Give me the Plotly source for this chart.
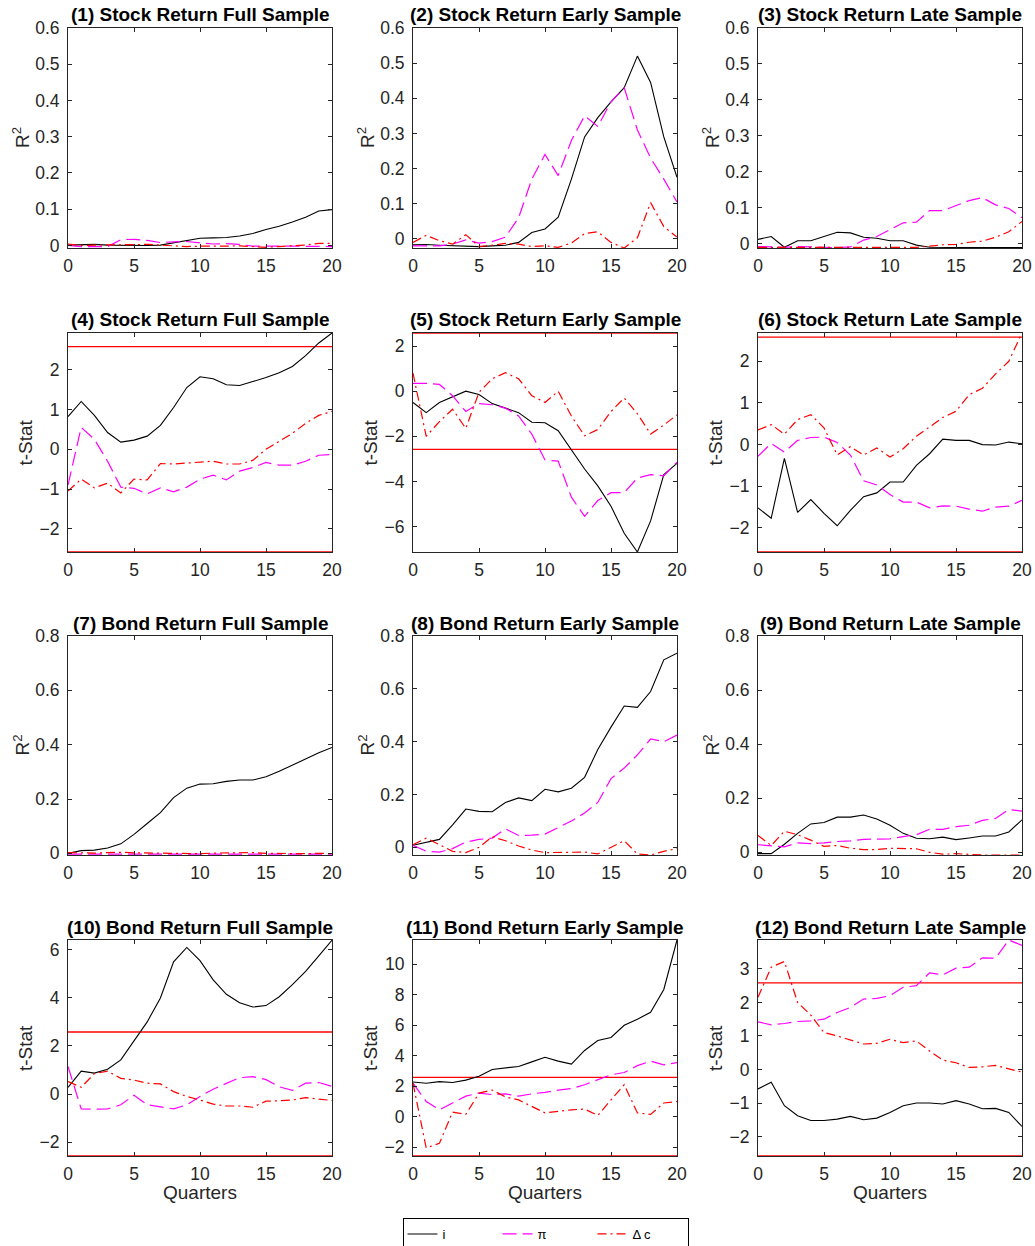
import plotly.graph_objects as go

quarters = list(range(21))
crit = 2.58

titles = [
    "(1) Stock Return Full Sample", "(2) Stock Return Early Sample", "(3) Stock Return Late Sample",
    "(4) Stock Return Full Sample", "(5) Stock Return Early Sample", "(6) Stock Return Late Sample",
    "(7) Bond Return Full Sample", "(8) Bond Return Early Sample", "(9) Bond Return Late Sample",
    "(10) Bond Return Full Sample", "(11) Bond Return Early Sample", "(12) Bond Return Late Sample",
]
series_names = ["i", "π", "Δ c"]

# Panel 1: stock R2 full
p1_i  = [0.001, 0.002, 0.003, 0.001, 0.0, 0.0, 0.0, 0.001, 0.007, 0.013, 0.02, 0.021, 0.022, 0.026, 0.033, 0.044, 0.053, 0.065, 0.078, 0.095, 0.099]
p1_pi = [0.0, -0.003, -0.003, -0.003, 0.016, 0.017, 0.014, 0.008, 0.01, 0.011, 0.007, 0.004, 0.005, 0.003, -0.002, -0.003, -0.002, -0.002, -0.002, -0.003, -0.003]
p1_dc = [0.004, 0.0, 0.001, 0.002, 0.003, 0.002, 0.003, 0.001, -0.002, -0.003, -0.002, -0.003, -0.002, -0.001, -0.002, -0.005, -0.003, -0.002, 0.001, 0.006, 0.006]
# Panel 2: stock R2 early
p2_i  = [-0.017, -0.016, -0.018, -0.02, -0.022, -0.022, -0.02, -0.018, -0.01, 0.018, 0.028, 0.062, 0.17, 0.29, 0.345, 0.39, 0.43, 0.52, 0.445, 0.29, 0.175]
p2_pi = [-0.02, -0.02, -0.02, -0.015, -0.003, -0.012, -0.008, 0.005, 0.06, 0.17, 0.24, 0.18, 0.28, 0.35, 0.32, 0.39, 0.43, 0.31, 0.23, 0.17, 0.105]
p2_dc = [-0.01, 0.01, -0.005, -0.015, 0.012, -0.022, -0.018, -0.013, -0.015, -0.022, -0.02, -0.024, -0.012, 0.015, 0.02, -0.01, -0.026, 0.003, 0.103, 0.035, 0.005]
# Panel 3: stock R2 late
p3_i  = [0.012, 0.02, -0.01, 0.008, 0.008, 0.02, 0.032, 0.03, 0.018, 0.015, 0.008, 0.008, -0.004, -0.01, -0.011, -0.011, -0.011, -0.011, -0.011, -0.011, -0.011]
p3_pi = [-0.008, -0.009, -0.01, -0.008, -0.009, -0.01, -0.011, -0.009, 0.01, 0.02, 0.04, 0.058, 0.06, 0.092, 0.092, 0.107, 0.12, 0.128, 0.108, 0.098, 0.072]
p3_dc = [-0.01, -0.01, -0.011, -0.01, -0.01, -0.011, -0.011, -0.011, -0.011, -0.011, -0.011, -0.01, -0.01, -0.007, -0.003, -0.002, 0.004, 0.007, 0.018, 0.033, 0.062]
# Panel 4: stock t full
p4_i  = [0.82, 1.2, 0.85, 0.42, 0.18, 0.23, 0.33, 0.6, 1.05, 1.55, 1.82, 1.77, 1.62, 1.6, 1.7, 1.8, 1.92, 2.08, 2.35, 2.67, 2.92]
p4_pi = [-0.9, 0.55, 0.25, -0.3, -0.95, -0.98, -1.12, -0.97, -1.07, -0.95, -0.75, -0.65, -0.77, -0.55, -0.46, -0.33, -0.4, -0.4, -0.3, -0.15, -0.13]
p4_dc = [-1.05, -0.75, -0.97, -0.85, -1.1, -0.75, -0.77, -0.36, -0.37, -0.35, -0.33, -0.3, -0.37, -0.37, -0.28, 0.0, 0.2, 0.4, 0.65, 0.85, 0.95]
# Panel 5: stock t early
p5_i  = [-0.5, -0.95, -0.5, -0.25, 0.0, -0.15, -0.55, -0.75, -0.95, -1.38, -1.4, -1.75, -2.6, -3.45, -4.2, -5.1, -6.3, -7.13, -5.75, -3.7, -3.2]
p5_pi = [0.35, 0.35, 0.3, -0.2, -0.9, -0.55, -0.6, -0.75, -1.1, -1.9, -3.05, -3.1, -4.7, -5.55, -4.85, -4.5, -4.5, -3.85, -3.7, -3.75, -3.15]
p5_dc = [0.8, -2.0, -1.35, -0.8, -1.65, -0.05, 0.55, 0.82, 0.55, -0.2, -0.5, 0.0, -1.1, -1.98, -1.7, -0.9, -0.3, -1.0, -1.9, -1.5, -1.05]
# Panel 6: stock t late
p6_i  = [-1.52, -1.77, -0.33, -1.63, -1.32, -1.65, -1.95, -1.58, -1.25, -1.16, -0.9, -0.9, -0.5, -0.22, 0.13, 0.1, 0.1, 0.0, -0.01, 0.06, 0.02]
p6_pi = [-0.28, 0.03, -0.18, 0.1, 0.17, 0.18, 0.05, -0.25, -0.87, -0.97, -1.2, -1.38, -1.38, -1.52, -1.47, -1.48, -1.55, -1.6, -1.5, -1.48, -1.34]
p6_dc = [0.35, 0.48, 0.25, 0.6, 0.72, 0.4, -0.25, -0.05, -0.25, -0.08, -0.3, -0.1, 0.2, 0.42, 0.65, 0.8, 1.2, 1.35, 1.7, 2.0, 2.68]
# Panel 7: bond R2 full
p7_i  = [0.0, 0.01, 0.012, 0.02, 0.035, 0.07, 0.11, 0.15, 0.205, 0.24, 0.255, 0.256, 0.265, 0.27, 0.27, 0.282, 0.302, 0.325, 0.348, 0.37, 0.39]
p7_pi = [-0.003, -0.003, -0.002, -0.002, -0.003, -0.003, -0.003, -0.003, -0.003, -0.002, -0.003, -0.003, -0.002, -0.002, -0.003, -0.003, -0.003, -0.003, -0.002, -0.003, -0.003]
p7_dc = [0.003, 0.002, 0.001, 0.003, 0.004, 0.002, 0.001, 0.0, -0.001, -0.001, -0.001, 0.001, 0.002, 0.002, 0.003, 0.0, -0.001, -0.001, -0.001, 0.0, -0.001]
# Panel 8: bond R2 early
p8_i  = [0.008, 0.018, 0.03, 0.085, 0.145, 0.136, 0.135, 0.17, 0.187, 0.177, 0.22, 0.21, 0.224, 0.265, 0.37, 0.455, 0.535, 0.53, 0.59, 0.71, 0.735]
p8_pi = [0.008, -0.015, -0.018, -0.005, 0.02, 0.03, 0.035, 0.07, 0.045, 0.046, 0.05, 0.075, 0.1, 0.13, 0.17, 0.26, 0.3, 0.35, 0.41, 0.4, 0.425]
p8_dc = [0.01, 0.035, 0.01, -0.015, -0.02, 0.0, 0.04, 0.025, 0.005, -0.01, -0.02, -0.02, -0.02, -0.018, -0.025, 0.0, 0.025, -0.025, -0.029, -0.015, -0.005]
# Panel 9: bond R2 late
p9_i  = [-0.005, -0.005, 0.03, 0.07, 0.105, 0.11, 0.13, 0.13, 0.138, 0.123, 0.1, 0.07, 0.052, 0.05, 0.056, 0.047, 0.053, 0.06, 0.06, 0.075, 0.12]
p9_pi = [0.028, 0.025, 0.02, 0.035, 0.032, 0.035, 0.04, 0.042, 0.048, 0.049, 0.05, 0.058, 0.065, 0.085, 0.085, 0.095, 0.1, 0.118, 0.125, 0.158, 0.152]
p9_dc = [0.062, 0.025, 0.078, 0.065, 0.045, 0.022, 0.025, 0.015, 0.01, 0.01, 0.015, 0.013, 0.013, 0.0, -0.007, -0.005, -0.008, -0.01, -0.01, -0.01, -0.01]
# Panel 10: bond t full
p10_i  = [0.28, 0.95, 0.87, 1.03, 1.42, 2.2, 3.0, 4.0, 5.5, 6.1, 5.55, 4.75, 4.15, 3.8, 3.62, 3.68, 4.05, 4.55, 5.1, 5.75, 6.4]
p10_pi = [1.15, -0.62, -0.63, -0.62, -0.45, -0.05, -0.45, -0.52, -0.62, -0.45, -0.1, 0.2, 0.45, 0.68, 0.72, 0.6, 0.3, 0.15, 0.45, 0.48, 0.32]
p10_dc = [0.52, 0.28, 0.85, 0.95, 0.65, 0.58, 0.45, 0.42, 0.1, -0.1, -0.25, -0.42, -0.5, -0.5, -0.55, -0.3, -0.28, -0.25, -0.15, -0.22, -0.27]
# Panel 11: bond t early
p11_i  = [2.28, 2.2, 2.3, 2.25, 2.4, 2.65, 3.1, 3.2, 3.3, 3.6, 3.9, 3.65, 3.45, 4.35, 5.0, 5.2, 6.0, 6.4, 6.85, 8.35, 11.6]
p11_pi = [2.2, 1.0, 0.45, 0.9, 1.35, 1.55, 1.45, 1.5, 1.35, 1.5, 1.6, 1.75, 1.85, 2.1, 2.45, 2.75, 2.9, 3.35, 3.65, 3.4, 3.55]
p11_dc = [2.2, -2.05, -1.75, 0.3, 0.15, 1.55, 1.75, 1.3, 1.1, 0.7, 0.25, 0.35, 0.45, 0.5, 0.08, 1.1, 2.1, 0.25, 0.15, 0.9, 1.0]
# Panel 12: bond t late
p12_i  = [-0.58, -0.38, -1.08, -1.38, -1.52, -1.52, -1.48, -1.4, -1.5, -1.45, -1.28, -1.08, -1.0, -1.0, -1.03, -0.93, -1.03, -1.17, -1.16, -1.28, -1.7]
p12_pi = [1.42, 1.33, 1.37, 1.43, 1.45, 1.5, 1.7, 1.85, 2.1, 2.12, 2.2, 2.45, 2.5, 2.88, 2.82, 3.02, 3.05, 3.33, 3.32, 3.86, 3.7]
p12_dc = [2.15, 3.05, 3.22, 2.0, 1.62, 1.1, 1.0, 0.88, 0.76, 0.78, 0.9, 0.8, 0.85, 0.55, 0.28, 0.2, 0.06, 0.08, 0.12, 0.02, -0.08]

panels = [
    (p1_i, p1_pi, p1_dc), (p2_i, p2_pi, p2_dc), (p3_i, p3_pi, p3_dc),
    (p4_i, p4_pi, p4_dc), (p5_i, p5_pi, p5_dc), (p6_i, p6_pi, p6_dc),
    (p7_i, p7_pi, p7_dc), (p8_i, p8_pi, p8_dc), (p9_i, p9_pi, p9_dc),
    (p10_i, p10_pi, p10_dc), (p11_i, p11_pi, p11_dc), (p12_i, p12_pi, p12_dc),
]
is_tstat = [False, False, False, True, True, True, False, False, False, True, True, True]

yranges = [
    [-0.007, 0.6], [-0.026, 0.6], [-0.012, 0.6],
    [-2.58, 2.92], [-7.13, 2.58], [-2.58, 2.68],
    [-0.006, 0.8], [-0.029, 0.8], [-0.01, 0.8],
    [-2.58, 6.41], [-2.58, 11.6], [-2.58, 3.86],
]
ydticks = [0.1, 0.1, 0.1, 1, 2, 1, 0.2, 0.2, 0.2, 2, 2, 1]

W, H = 1035, 1246
cols = [(68, 332), (413, 677), (758, 1022)]
rows = [(28, 248), (333, 552), (636, 855), (940, 1156)]


def fx(px):
    return px / W


def fy(py):
    return 1 - py / H


styles = [
    dict(color="black", width=1.1, dash="solid"),
    dict(color="#ff00ff", width=1.2, dash="14px,6px"),
    dict(color="#ff0000", width=1.2, dash="9px,4px,2px,4px"),
]

fig = go.Figure()
annotations = []
axis_color = "#262626"
font_family = "Liberation Sans, Arial, Helvetica, sans-serif"

for k in range(12):
    r, c = divmod(k, 3)
    ax = "" if k == 0 else str(k + 1)
    xref, yref = "x" + ax, "y" + ax
    if is_tstat[k]:
        for sgn in (1, -1):
            fig.add_trace(go.Scatter(x=[quarters[0], quarters[-1]], y=[sgn * crit, sgn * crit],
                                     mode="lines", line=dict(color="#ff0000", width=1.3),
                                     showlegend=False, hoverinfo="skip", xaxis=xref, yaxis=yref,
                                     cliponaxis=False))
    for s, (vals, st) in enumerate(zip(panels[k], styles)):
        fig.add_trace(go.Scatter(x=quarters, y=vals, mode="lines", name=series_names[s],
                                 line=st, showlegend=(k == 0), legendgroup=series_names[s],
                                 xaxis=xref, yaxis=yref))
    x0, x1 = cols[c]
    y0, y1 = rows[r]
    common = dict(showline=True, linecolor=axis_color, linewidth=1, mirror="ticks",
                  ticks="inside", ticklen=4, tickcolor=axis_color, showgrid=False, zeroline=False,
                  automargin=False,
                  tickfont=dict(size=17.5, color=axis_color, family=font_family))
    fig.layout["xaxis" + ax] = dict(domain=[fx(x0), fx(x1)], anchor=yref, range=[0, 20],
                                   tick0=0, dtick=5, ticklabelstandoff=2, **common)
    fig.layout["yaxis" + ax] = dict(domain=[fy(y1), fy(y0)], anchor=xref,
                                   range=yranges[k], tick0=0, dtick=ydticks[k],
                                   ticklabelstandoff=4, **common)
    annotations.append(dict(text="<b>" + titles[k] + "</b>", x=fx((x0 + x1) / 2), y=fy(y0 - 13),
                            xref="paper", yref="paper", showarrow=False, xanchor="center",
                            yanchor="middle", font=dict(size=19, color="black", family=font_family)))
    if is_tstat[k]:
        ylab, lx = "t-Stat", x0 - 43
    else:
        ylab, lx = "R<sup>2</sup>", x0 - 47
    annotations.append(dict(text=ylab, x=fx(lx), y=fy((y0 + y1) / 2),
                            xref="paper", yref="paper", showarrow=False, textangle=-90,
                            xanchor="center", yanchor="middle",
                            font=dict(size=19, color=axis_color, family=font_family)))
    if r == 3:
        annotations.append(dict(text="Quarters", x=fx((x0 + x1) / 2), y=fy(1192),
                                xref="paper", yref="paper", showarrow=False, xanchor="center",
                                yanchor="middle",
                                font=dict(size=19, color=axis_color, family=font_family)))

fig.update_layout(
    width=W, height=H, margin=dict(l=0, r=0, t=0, b=0, pad=0, autoexpand=False),
    paper_bgcolor="white", plot_bgcolor="white",
    annotations=annotations,
    font=dict(family=font_family, color=axis_color),
    legend=dict(orientation="h", x=fx((401 + 690) / 2), xanchor="center", y=fy(1218), yanchor="top",
                bgcolor="white", bordercolor="black", borderwidth=1,
                font=dict(size=13, color="black", family=font_family),
                entrywidth=50, entrywidthmode="pixels", tracegroupgap=0),
    showlegend=True,
)

fig.write_html("out.html")
